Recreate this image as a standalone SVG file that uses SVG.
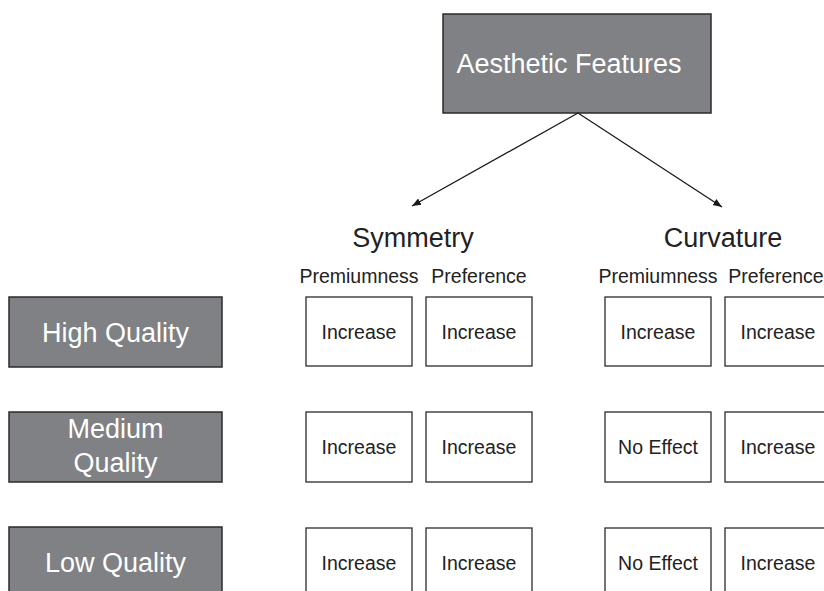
<svg xmlns="http://www.w3.org/2000/svg" width="824" height="591" viewBox="0 0 824 591">
<style>
.dark{fill:#808184;stroke:#2b2b2b;stroke-width:1.5}
.cell{fill:#ffffff;stroke:#2b2b2b;stroke-width:1.3}
.wt{fill:#ffffff;font-family:"Liberation Sans",Arial,sans-serif;font-size:27px;text-anchor:middle}
.hd{fill:#222;font-family:"Liberation Sans",Arial,sans-serif;font-size:27px;text-anchor:middle}
.sub{fill:#222;font-family:"Liberation Sans",Arial,sans-serif;font-size:19.5px;text-anchor:middle}
.ct{fill:#222;font-family:"Liberation Sans",Arial,sans-serif;font-size:19.5px;text-anchor:middle}
.conn{stroke:#1a1a1a;stroke-width:1.3;fill:none}
</style>
<defs>
<marker id="ah" viewBox="0 0 10 10" refX="10" refY="5" markerWidth="9" markerHeight="9" orient="auto" markerUnits="userSpaceOnUse">
<path d="M0,1 L10,5 L0,9 Z" fill="#1a1a1a"/>
</marker>
</defs>
<rect width="824" height="591" fill="#ffffff"/>

<g id="aesthetic-features">
<rect class="dark" x="443" y="14" width="268" height="99"/>
<text class="wt" x="569" y="73">Aesthetic Features</text>
</g>

<g id="connectors">
<line class="conn" x1="578" y1="113" x2="412" y2="206" marker-end="url(#ah)"/>
<line class="conn" x1="578" y1="113" x2="722" y2="207" marker-end="url(#ah)"/>
</g>

<g id="symmetry">
<text class="hd" x="413" y="247">Symmetry</text>
<text class="sub" x="359" y="283">Premiumness</text>
<text class="sub" x="479" y="283">Preference</text>
</g>

<g id="curvature">
<text class="hd" x="723" y="247">Curvature</text>
<text class="sub" x="658" y="283">Premiumness</text>
<text class="sub" x="776" y="283">Preference</text>
</g>

<g id="high-quality">
<rect class="dark" x="9" y="297" width="213" height="70"/>
<text class="wt" x="115.5" y="342">High Quality</text>
</g>
<g id="medium-quality">
<rect class="dark" x="9" y="412" width="213" height="70"/>
<text class="wt" x="115.5" y="438">Medium</text>
<text class="wt" x="115.5" y="472">Quality</text>
</g>
<g id="low-quality">
<rect class="dark" x="9" y="527" width="213" height="70"/>
<text class="wt" x="115.5" y="572">Low Quality</text>
</g>

<g id="hq-sym-prem"><rect class="cell" x="306" y="297" width="106" height="69"/><text class="ct" x="359" y="339">Increase</text></g>
<g id="hq-sym-pref"><rect class="cell" x="426" y="297" width="106" height="69"/><text class="ct" x="479" y="339">Increase</text></g>
<g id="hq-cur-prem"><rect class="cell" x="605" y="297" width="106" height="69"/><text class="ct" x="658" y="339">Increase</text></g>
<g id="hq-cur-pref"><rect class="cell" x="725" y="297" width="106" height="69"/><text class="ct" x="778" y="339">Increase</text></g>

<g id="mq-sym-prem"><rect class="cell" x="306" y="412" width="106" height="70"/><text class="ct" x="359" y="454">Increase</text></g>
<g id="mq-sym-pref"><rect class="cell" x="426" y="412" width="106" height="70"/><text class="ct" x="479" y="454">Increase</text></g>
<g id="mq-cur-prem"><rect class="cell" x="605" y="412" width="106" height="70"/><text class="ct" x="658" y="454">No Effect</text></g>
<g id="mq-cur-pref"><rect class="cell" x="725" y="412" width="106" height="70"/><text class="ct" x="778" y="454">Increase</text></g>

<g id="lq-sym-prem"><rect class="cell" x="306" y="528" width="106" height="70"/><text class="ct" x="359" y="570">Increase</text></g>
<g id="lq-sym-pref"><rect class="cell" x="426" y="528" width="106" height="70"/><text class="ct" x="479" y="570">Increase</text></g>
<g id="lq-cur-prem"><rect class="cell" x="605" y="528" width="106" height="70"/><text class="ct" x="658" y="570">No Effect</text></g>
<g id="lq-cur-pref"><rect class="cell" x="725" y="528" width="106" height="70"/><text class="ct" x="778" y="570">Increase</text></g>
</svg>
